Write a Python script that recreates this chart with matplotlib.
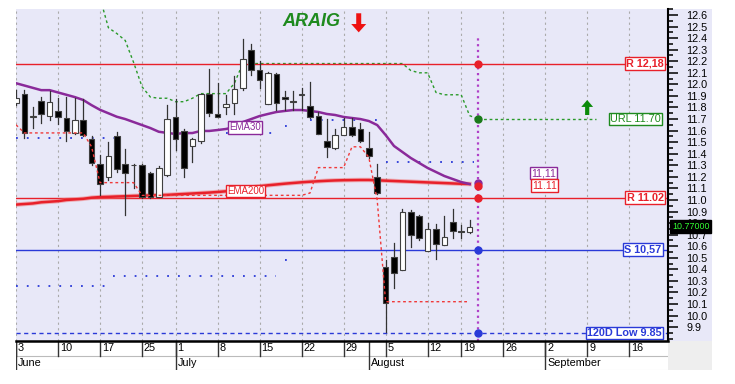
import numpy as np
import pandas as pd
import matplotlib as mpl
mpl.use('Agg')
import matplotlib.pyplot as plt
from matplotlib.patches import Rectangle
from matplotlib.ticker import MultipleLocator, FormatStrFormatter
import matplotlib.transforms as mtrans

plt.rcParams['font.family'] = ['Liberation Sans', 'DejaVu Sans']

# trading days on the axis (holidays left out)
days = pd.bdate_range('2024-06-03', '2024-09-20')
days = days.drop(pd.to_datetime(['2024-06-24', '2024-08-15']))

# daily candles, Jun 3 .. Aug 20
opens = [11.84, 11.92, 11.72, 11.86, 11.73, 11.77, 11.71, 11.58, 11.69, 11.53,
         11.31, 11.20, 11.55, 11.31, 11.30, 11.30, 11.23, 11.03, 11.22, 11.72,
         11.60, 11.47, 11.51, 11.92, 11.74, 11.80, 11.84, 11.97, 12.30, 12.12,
         11.83, 12.09, 11.89, 11.86, 11.91, 11.81, 11.73, 11.51, 11.45, 11.56,
         11.63, 11.61, 11.45, 11.20, 10.42, 10.51, 10.39, 10.90, 10.86, 10.56,
         10.75, 10.61, 10.81, 10.73, 10.72]
highs = [11.95, 11.95, 11.80, 11.89, 11.94, 11.88, 11.89, 11.88, 11.87, 11.55,
         11.39, 11.50, 11.59, 11.44, 11.31, 11.31, 11.24, 11.29, 11.82, 11.87,
         11.61, 11.54, 11.92, 12.13, 12.01, 11.91, 12.07, 12.39, 12.35, 12.20,
         12.11, 12.10, 11.94, 11.94, 11.97, 12.02, 11.76, 11.70, 11.61, 11.71,
         11.71, 11.67, 11.59, 11.31, 10.48, 10.63, 10.92, 10.91, 10.87, 10.80,
         10.79, 10.86, 10.92, 10.78, 10.83]
lows = [11.82, 11.54, 11.62, 11.67, 11.69, 11.66, 11.51, 11.57, 11.55, 11.30,
        11.04, 11.17, 11.24, 10.87, 11.10, 11.02, 11.02, 11.03, 11.21, 11.43,
        11.20, 11.33, 11.49, 11.73, 11.72, 11.74, 11.74, 11.95, 12.08, 11.97,
        11.83, 11.78, 11.78, 11.78, 11.78, 11.71, 11.57, 11.37, 11.44, 11.56,
        11.55, 11.50, 11.36, 11.05, 9.86, 10.24, 10.39, 10.59, 10.65, 10.56,
        10.49, 10.61, 10.67, 10.67, 10.71]
closes = [11.88, 11.58, 11.73, 11.74, 11.85, 11.72, 11.60, 11.69, 11.56, 11.32,
          11.14, 11.38, 11.27, 11.23, 11.30, 11.03, 11.03, 11.28, 11.70, 11.53,
          11.28, 11.53, 11.92, 11.75, 11.72, 11.83, 11.96, 12.22, 12.12, 12.04,
          12.10, 11.84, 11.87, 11.85, 11.91, 11.72, 11.57, 11.46, 11.56, 11.63,
          11.56, 11.51, 11.38, 11.06, 10.11, 10.37, 10.90, 10.70, 10.67, 10.75,
          10.62, 10.68, 10.73, 10.72, 10.77]

ema30 = [12.01, 11.99, 11.97, 11.95, 11.95, 11.93, 11.91, 11.89, 11.865, 11.82,
         11.78, 11.75, 11.72, 11.70, 11.674, 11.648, 11.622, 11.59, 11.58, 11.571,
         11.579, 11.579, 11.597, 11.597, 11.605, 11.614, 11.631, 11.674, 11.70, 11.726,
         11.744, 11.761, 11.77, 11.778, 11.778, 11.77, 11.761, 11.744, 11.735, 11.718,
         11.709, 11.70, 11.683, 11.648, 11.562, 11.467, 11.415, 11.363, 11.32, 11.277,
         11.242, 11.207, 11.181, 11.155, 11.138]
ema200 = [10.96, 10.965, 10.97, 10.98, 10.985, 10.99, 11.00, 11.005, 11.01, 11.02,
          11.025, 11.027, 11.03, 11.032, 11.035, 11.037, 11.04, 11.042, 11.044, 11.048,
          11.052, 11.056, 11.06, 11.064, 11.069, 11.075, 11.085, 11.097, 11.108, 11.118,
          11.127, 11.134, 11.141, 11.147, 11.153, 11.158, 11.162, 11.166, 11.169, 11.171,
          11.172, 11.173, 11.173, 11.17, 11.167, 11.164, 11.161, 11.158, 11.155, 11.152,
          11.149, 11.146, 11.143, 11.14, 11.138]

# green trailing stop (from Jun 17 to Aug 21)
stop_up = [12.75, 12.49, 12.44, 12.38, 12.19, 11.98, 11.89, 11.88, 11.88, 11.85,
           11.85, 11.88, 11.92, 11.92, 11.92, 11.92, 12.01, 12.18, 12.18, 12.18,
           12.18, 12.18, 12.18, 12.18, 12.18, 12.18, 12.18, 12.18, 12.18, 12.18,
           12.18, 12.18, 12.18, 12.18, 12.18, 12.18, 12.18, 12.12, 12.10, 12.10,
           11.93, 11.91, 11.91, 11.91, 11.73, 11.70]
stop_up_start = 10
# red trailing stop (Jun 3 .. Aug 20)
stop_dn = [11.65, 11.58, 11.58, 11.58, 11.58, 11.58, 11.58, 11.58, 11.58, 11.46,
           11.15, 11.15, 11.15, 11.15, 11.15, 11.04, 11.04, 11.04, 11.04, 11.04,
           11.04, 11.04, 11.04, 11.04, 11.04, 11.04, 11.04, 11.04, 11.04, 11.04,
           11.04, 11.04, 11.04, 11.04, 11.04, 11.06, 11.28, 11.28, 11.28, 11.28,
           11.46, 11.46, 11.37, 11.00, 10.12, 10.12, 10.12, 10.12, 10.12, 10.12,
           10.12, 10.12, 10.12, 10.12, 10.12]

# blue dotted channel pieces
chan_hi_lv = [11.535, 11.58, 11.64, 11.69, 11.33]
chan_hi_from = [0, 25, 32, 35, 44]
chan_hi_to = [12, 31, 33, 43, 54.5]
chan_lo_lv = [10.255, 10.34, 10.48]
chan_lo_from = [0, 11.5, 32]
chan_lo_to = [11, 31, 33]

r_hi = 12.18
r_lo = 11.02
sup = 10.57
low120 = 9.85
url = 11.70
ema30_last = 11.15
ema200_last = 11.12
last_px = 10.77

week_starts = ['2024-06-03', '2024-06-10', '2024-06-17', '2024-06-25', '2024-07-01',
               '2024-07-08', '2024-07-15', '2024-07-22', '2024-07-29', '2024-08-05',
               '2024-08-12', '2024-08-19', '2024-08-26', '2024-09-02', '2024-09-09',
               '2024-09-16']
month_starts = ['2024-06-03', '2024-07-01', '2024-08-01', '2024-09-02']
month_names = ['June', 'July', 'August', 'September']

idx = {d: i for i, d in enumerate(days)}
def pos(s):
    return idx[pd.Timestamp(s)]

bg = '#e8e8f8'
red = '#e8202a'
blue = '#2a3ad8'
green = '#1e8a1e'
purple = '#8a2a9a'

W, H = 735, 384
fig = plt.figure(figsize=(W / 100, H / 100), dpi=100)
ax = fig.add_axes([16 / W, 43 / H, 652 / W, 332 / H])
ax.set_facecolor(bg)
fig.add_artist(Rectangle((668 / W, 43 / H), 44 / W, 332 / H, transform=fig.transFigure,
                         facecolor=bg, edgecolor='none', zorder=-1))
fig.add_artist(Rectangle((668 / W, 14 / H), 44 / W, 29 / H, transform=fig.transFigure,
                         facecolor='#eeeeee', edgecolor='none', zorder=-1))

ax.set_xlim(0, 77.62)
ax.set_ylim(9.78, 12.652)

for w in week_starts:
    ax.axvline(pos(w), color='#aaaaaa', lw=0.8, ls=(0, (2, 3)), zorder=0)

# horizontal levels
ax.axhline(r_hi, color=red, lw=1, zorder=2)
ax.axhline(r_lo, color=red, lw=1, zorder=2)
ax.axhline(sup, color=blue, lw=1, zorder=2)
ax.axhline(low120, color=blue, lw=1, ls=(0, (3, 2.5)), zorder=2)

# channel dots
for lv, a, b in zip(chan_hi_lv, chan_hi_from, chan_hi_to):
    ax.plot([a, b], [lv, lv], color=blue, lw=1.3, ls=(0, (1, 5)), zorder=1)
for lv, a, b in zip(chan_lo_lv, chan_lo_from, chan_lo_to):
    ax.plot([a, b], [lv, lv], color=blue, lw=1.3, ls=(0, (1, 5)), zorder=1)

# trailing stops
x_up = np.arange(stop_up_start, stop_up_start + len(stop_up))
ax.plot(x_up, stop_up, color='#2a9a2a', lw=1, ls=(0, (2, 2)), zorder=1.5)
ax.plot(np.arange(len(stop_dn)), stop_dn, color='#f03a3a', lw=1, ls=(0, (2, 2)), zorder=5)

# averages
ax.plot(np.arange(len(ema200)), ema200, color='#f07070', lw=3.2, alpha=0.5, zorder=3)
ax.plot(np.arange(len(ema200)), ema200, color=red, lw=1.8, zorder=3)
ax.plot(np.arange(len(ema30)), ema30, color=purple, lw=1.8, zorder=3)

# candles
for i, (o, h, l, c) in enumerate(zip(opens, highs, lows, closes)):
    ax.plot([i, i], [l, h], color='#333333', lw=0.9, zorder=4)
    lo, hi = min(o, c), max(o, c)
    ht = max(hi - lo, 0.006)
    fc = 'black' if c < o else 'white'
    ax.bar(i, ht, bottom=lo, width=0.68, color=fc, edgecolor='#404040', lw=0.8, zorder=4)

# today's marker column
nxt = len(closes)
ax.plot([nxt, nxt], [9.78, 12.43], color='#b040c8', lw=1.6, ls=(0, (1, 1.6)), zorder=6)
ax.plot([nxt, 69.1], [url, url], color='#2a9a2a', lw=1, ls=(0, (2, 2)), zorder=3)
for v, col in [(r_hi, red), (url, '#1a7a1a'), (ema30_last, purple), (ema200_last, red),
               (r_lo, red), (sup, blue), (low120, blue)]:
    ax.plot(nxt, v, 'o', ms=5, color=col, zorder=7)

def tag(x, y, s, col, bold=True, size=7.8, ha='right', fc='white'):
    ax.text(x, y, s, color=col, fontsize=size, fontweight='bold' if bold else 'normal',
            ha=ha, va='center', zorder=8, clip_on=False,
            bbox=dict(boxstyle='square,pad=0.12', fc=fc, ec=col, lw=1))

tag(77.1, r_hi, 'R 12,18', red)
tag(76.8, url, 'URL 11.70', green, bold=False)
tag(77.1, r_lo, 'R 11.02', red)
tag(76.85, sup, 'S 10,57', blue)
tag(76.85, low120, '120D Low 9.85', blue)
tag(27.3, 11.627, 'EMA30', purple, bold=False, size=7, ha='center')
tag(27.3, 11.077, 'EMA200', red, bold=False, size=7, ha='center')
tag(62.8, 11.233, '11,11', purple, bold=False, size=7.5, ha='center')
tag(62.9, 11.125, '11.11', red, bold=False, size=7.5, ha='center')

# title and arrows
ax.text(31.7, 12.54, 'ARAIG', color=green, fontsize=13, fontweight='bold',
        fontstyle='italic', va='center', ha='left', zorder=8)
ax.annotate('', xy=(40.8, 12.45), xytext=(40.8, 12.615),
            arrowprops=dict(arrowstyle='simple,head_width=1.08,head_length=0.6,tail_width=0.36',
                            color='#ee1111', lw=0, mutation_scale=10,
                            shrinkA=0, shrinkB=0), zorder=8)
ax.annotate('', xy=(68.0, 11.865), xytext=(68.0, 11.735),
            arrowprops=dict(arrowstyle='simple,head_width=0.85,head_length=0.5,tail_width=0.3',
                            color='#0a8a0a', lw=0, mutation_scale=10,
                            shrinkA=0, shrinkB=0), zorder=8)

# price axis on the right
for side in ['left', 'top', 'bottom']:
    ax.spines[side].set_visible(False)
ax.spines['right'].set_linewidth(1.5)
ax.set_xticks([])
ax.yaxis.tick_right()
ax.yaxis.set_major_locator(MultipleLocator(0.1))
ax.yaxis.set_minor_locator(MultipleLocator(0.05))
ax.yaxis.set_major_formatter(FormatStrFormatter('%.1f'))
ax.set_yticks([v / 10 for v in range(99, 127)])
ax.tick_params(axis='y', which='major', length=7, width=1.1, pad=6, labelsize=7.8)
ax.tick_params(axis='y', which='minor', length=3.6, width=1.1)
trans = mtrans.blended_transform_factory(ax.transAxes, ax.transData)
ax.text(1.006, last_px, '10.77000', transform=trans, color='#33ff33', fontsize=6.4,
        ha='left', va='center', zorder=9, clip_on=False,
        bbox=dict(boxstyle='square,pad=0.2', fc='black', ec='black'))

# date strip
ax2 = fig.add_axes([16 / W, 14 / H, 652 / W, 29 / H])
ax2.set_xlim(ax.get_xlim())
ax2.set_ylim(0, 2)
ax2.set_facecolor('white')
ax2.set_xticks([])
ax2.set_yticks([])
for side in ['left', 'right', 'bottom']:
    ax2.spines[side].set_visible(False)
ax2.spines['top'].set_linewidth(1.8)
ax2.axhline(1, color='#bbbbbb', lw=0.8)
ax2.axhline(0.02, color='#dddddd', lw=0.8)
for w in week_starts:
    p = pos(w)
    ax2.plot([p, p], [1, 2], color='#333333', lw=1)
    ax2.text(p + 0.22, 1.5, str(pd.Timestamp(w).day), fontsize=7.8, ha='left', va='center')
for m, name in zip(month_starts, month_names):
    p = pos(m)
    ax2.plot([p, p], [0, 2], color='#333333', lw=1)
    ax2.text(p + 0.22, 0.5, name, fontsize=7.8, ha='left', va='center')

fig.savefig('out.png', dpi=100)
